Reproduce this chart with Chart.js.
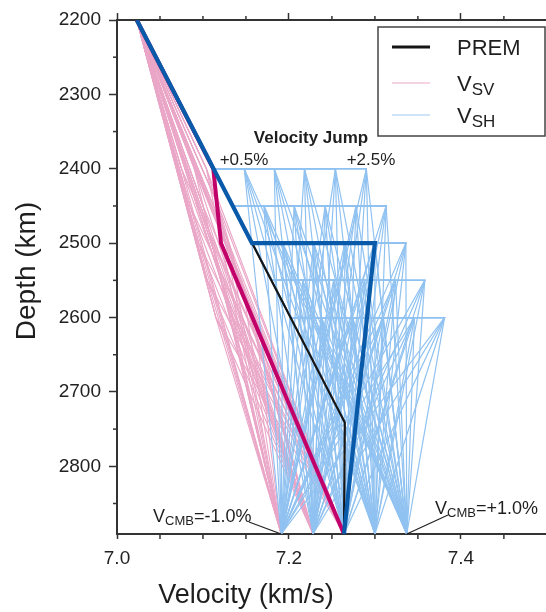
<!DOCTYPE html>
<html><head><meta charset="utf-8">
<script src="https://cdn.jsdelivr.net/npm/chart.js@4.4.1/dist/chart.umd.min.js"></script>
<style>html,body{margin:0;padding:0;background:#fff;overflow:hidden}#wrap{width:546px;height:612px;position:relative}</style>
</head><body><div id="wrap"><canvas id="c" width="546" height="612"></canvas></div>
<script>
// ---- data ----
const premDepth = [2200, 2741, 2891];
const premVel   = [7.023, 7.265, 7.264];

const shJumpDepths = [2400, 2450, 2500, 2550, 2600];
const shPremAtJump = [7.112, 7.135, 7.157, 7.180, 7.202];
const shJumpVel = [
  [7.148, 7.183, 7.218, 7.254, 7.290],
  [7.171, 7.206, 7.242, 7.278, 7.313],
  [7.193, 7.229, 7.265, 7.300, 7.336],
  [7.216, 7.252, 7.288, 7.324, 7.358],
  [7.238, 7.274, 7.310, 7.346, 7.381]
];
const cmbVel = [7.191, 7.228, 7.264, 7.300, 7.337];

const svKinkDepths = [2400, 2450, 2500, 2550, 2600];
const svKinkVel = [
  [7.075, 7.090, 7.104],
  [7.085, 7.100, 7.118],
  [7.095, 7.112, 7.130],
  [7.105, 7.124, 7.145],
  [7.115, 7.135, 7.160]
];
const svCmbVel = [7.191, 7.228, 7.264];

const svBestDepth = [2200, 2400, 2500, 2891];
const svBestVel   = [7.023, 7.112, 7.121, 7.264];
const shBestDepth = [2200, 2500, 2500, 2891];
const shBestVel   = [7.023, 7.157, 7.300, 7.264];

const yTicks = [2200, 2300, 2400, 2500, 2600, 2700, 2800];
const yMinorTicks = [2250, 2350, 2450, 2550, 2650, 2750, 2850];
const xTicks = [7.0, 7.2, 7.4];
const xMinorTicks = [7.05, 7.1, 7.15, 7.25, 7.3, 7.35, 7.45];

const jumpLabel = "Velocity Jump";
const jumpLow = "+0.5%", jumpHigh = "+2.5%";

// ---- build datasets ----
const TOP = {x: premVel[0], y: premDepth[0]};
const BOT = premDepth[2];
const datasets = [];
const pinkThin = '#eaa6c7', blueThin = '#90c2f1';
svKinkDepths.forEach((d, i) => {
  svKinkVel[i].forEach(v => {
    svCmbVel.forEach(c => {
      datasets.push({data: [TOP, {x: v, y: d}, {x: c, y: BOT}], borderColor: pinkThin, borderWidth: 1.1, order: 5});
    });
  });
});
shJumpDepths.forEach((d, i) => {
  shJumpVel[i].forEach(v => {
    cmbVel.forEach(c => {
      datasets.push({data: [TOP, {x: shPremAtJump[i], y: d}, {x: v, y: d}, {x: c, y: BOT}], borderColor: blueThin, borderWidth: 1.2, order: 4});
    });
  });
});
datasets.push({data: premDepth.map((d, i) => ({x: premVel[i], y: d})), borderColor: '#151515', borderWidth: 2.2, order: 3});
datasets.push({data: svBestDepth.map((d, i) => ({x: svBestVel[i], y: d})), borderColor: '#c2006a', borderWidth: 4, order: 2});
datasets.push({data: shBestDepth.map((d, i) => ({x: shBestVel[i], y: d})), borderColor: '#0a5aaa', borderWidth: 4.2, order: 1});
datasets.forEach(ds => { ds.showLine = true; ds.pointRadius = 0; ds.fill = false; ds.tension = 0; ds.borderJoinStyle = 'miter'; });

const FONT = '"Liberation Sans", Arial, Helvetica, sans-serif';
const AX = '#333';

function subText(ctx, x, y, parts, align) {
  let w = 0;
  parts.forEach(p => { ctx.font = (p[3] || '') + ' ' + p[1] + 'px ' + FONT; w += ctx.measureText(p[0]).width; });
  let cx = align === 'center' ? x - w / 2 : x;
  ctx.textAlign = 'left'; ctx.textBaseline = 'alphabetic';
  parts.forEach(p => { ctx.font = (p[3] || '') + ' ' + p[1] + 'px ' + FONT; ctx.fillText(p[0], cx, y + p[2]); cx += ctx.measureText(p[0]).width; });
}

const decor = {
  id: 'decor',
  afterDraw(chart) {
    const ctx = chart.ctx, xs = chart.scales.x, ys = chart.scales.y, a = chart.chartArea;
    ctx.save();
    ctx.strokeStyle = AX; ctx.lineWidth = 1.5;
    yMinorTicks.forEach(v => { const p = ys.getPixelForValue(v); ctx.beginPath(); ctx.moveTo(a.left - 4, p); ctx.lineTo(a.left, p); ctx.stroke(); });
    xMinorTicks.forEach(v => {
      const p = xs.getPixelForValue(v);
      ctx.beginPath(); ctx.moveTo(p, a.bottom); ctx.lineTo(p, a.bottom + 5); ctx.stroke();
      ctx.beginPath(); ctx.moveTo(p, a.top); ctx.lineTo(p, a.top - 4); ctx.stroke();
    });
    // axis titles
    ctx.fillStyle = '#1e1e1e';
    ctx.font = '27px ' + FONT; ctx.textAlign = 'center'; ctx.textBaseline = 'middle';
    ctx.fillText('Velocity (km/s)', 246, 596);
    ctx.save(); ctx.translate(27, 271); ctx.rotate(-Math.PI / 2);
    ctx.font = '28px ' + FONT; ctx.fillText('Depth (km)', 0, 0); ctx.restore();

    // annotations
    ctx.font = 'bold 17px ' + FONT; ctx.textAlign = 'center'; ctx.textBaseline = 'middle';
    ctx.fillText(jumpLabel, 311, 138);
    ctx.font = '17px ' + FONT;
    ctx.fillText(jumpLow, 244, 160);
    ctx.fillText(jumpHigh, 371, 160);
    subText(ctx, 153, 522, [['V', 18, 0], ['CMB', 13, 3], ['=-1.0%', 18, 0]]);
    subText(ctx, 435, 514, [['V', 18, 0], ['CMB', 13, 3], ['=+1.0%', 18, 0]]);
    ctx.strokeStyle = '#222'; ctx.lineWidth = 1.3;
    ctx.beginPath(); ctx.moveTo(249, 522); ctx.lineTo(xs.getPixelForValue(cmbVel[0]), a.bottom); ctx.stroke();
    ctx.beginPath(); ctx.moveTo(448, 515); ctx.lineTo(xs.getPixelForValue(cmbVel[4]), a.bottom); ctx.stroke();

    // legend
    ctx.fillStyle = '#fff'; ctx.fillRect(378, 27, 167, 109);
    ctx.strokeStyle = '#444'; ctx.lineWidth = 1.5; ctx.strokeRect(378, 27, 167, 109);
    const rows = [
      {y: 47, color: '#151515', w: 3, parts: [['PREM', 22, 0]]},
      {y: 83, color: '#e9a8c6', w: 1.2, parts: [['V', 22, 0], ['SV', 17, 4]]},
      {y: 115, color: '#9ccaf3', w: 1.2, parts: [['V', 22, 0], ['SH', 17, 4]]}
    ];
    rows.forEach(r => {
      ctx.strokeStyle = r.color; ctx.lineWidth = r.w;
      ctx.beginPath(); ctx.moveTo(392, r.y); ctx.lineTo(430, r.y); ctx.stroke();
      ctx.fillStyle = '#1e1e1e';
      subText(ctx, 457, r.y + 8, r.parts);
    });
    ctx.restore();
  }
};

new Chart(document.getElementById('c'), {
  type: 'scatter',
  data: {datasets},
  options: {
    responsive: false, animation: false, events: [],
    layout: {padding: {left: 0, right: 0, top: 0, bottom: 0}},
    plugins: {legend: {display: false}, tooltip: {enabled: false}},
    scales: {
      x: {
        type: 'linear', position: 'bottom', min: 7.0, max: 7.499,
        grid: {drawOnChartArea: false, tickLength: 5, tickColor: AX, tickWidth: 1.5},
        border: {color: AX, width: 2},
        ticks: {font: {size: 19, family: FONT}, color: '#222', padding: 8, maxRotation: 0, autoSkip: false,
                callback: v => Number(v).toFixed(1)},
        afterBuildTicks: s => { s.ticks = xTicks.map(v => ({value: v})); },
        afterFit: s => { s.height = 78; }
      },
      x2: {
        type: 'linear', position: 'top', min: 7.0, max: 7.499,
        grid: {drawOnChartArea: false, tickLength: 7, tickColor: AX, tickWidth: 1.5},
        border: {color: AX, width: 2},
        ticks: {display: false},
        afterBuildTicks: s => { s.ticks = xTicks.map(v => ({value: v})); },
        afterFit: s => { s.height = 20; }
      },
      y: {
        type: 'linear', reverse: true, min: 2200, max: 2891,
        grid: {drawOnChartArea: false, tickLength: 8, tickColor: AX, tickWidth: 1.5},
        border: {color: AX, width: 2},
        ticks: {font: {size: 19, family: FONT}, color: '#222', padding: 8, autoSkip: false,
                callback: v => String(v)},
        afterBuildTicks: s => { s.ticks = yTicks.map(v => ({value: v})); },
        afterFit: s => { s.width = 117; }
      }
    }
  },
  plugins: [decor]
});
</script>
</body></html>
